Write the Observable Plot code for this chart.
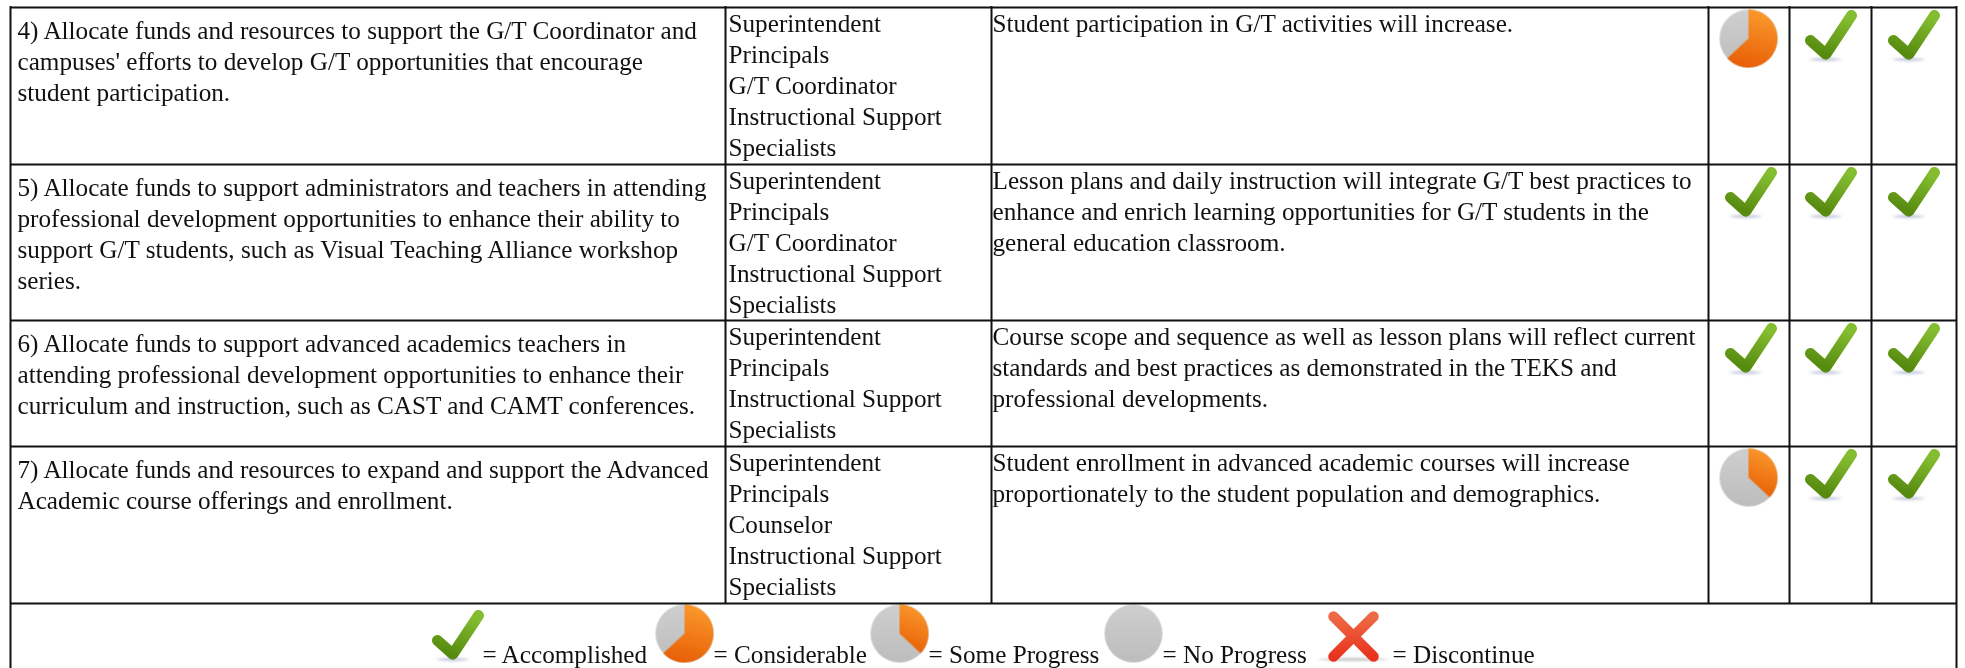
<!DOCTYPE html>
<html><head><meta charset="utf-8">
<script src="https://cdn.jsdelivr.net/npm/d3@7"></script>
<script src="https://cdn.jsdelivr.net/npm/@observablehq/plot@0.6"></script>
<style>html,body{margin:0;padding:0;background:#fff}svg{display:block}</style>
</head><body><div id="chart"></div>
<script>
// ---- table content ----
const rowIds = ["4", "5", "6", "7"];
const strategies = [
  "4) Allocate funds and resources to support the G/T Coordinator and\ncampuses' efforts to develop G/T opportunities that encourage\nstudent participation.",
  "5) Allocate funds to support administrators and teachers in attending\nprofessional development opportunities to enhance their ability to\nsupport G/T students, such as Visual Teaching Alliance workshop\nseries.",
  "6) Allocate funds to support advanced academics teachers in\nattending professional development opportunities to enhance their\ncurriculum and instruction, such as CAST and CAMT conferences.",
  "7) Allocate funds and resources to expand and support the Advanced\nAcademic course offerings and enrollment."
];
const responsible = [
  "Superintendent\nPrincipals\nG/T Coordinator\nInstructional Support\nSpecialists",
  "Superintendent\nPrincipals\nG/T Coordinator\nInstructional Support\nSpecialists",
  "Superintendent\nPrincipals\nInstructional Support\nSpecialists",
  "Superintendent\nPrincipals\nCounselor\nInstructional Support\nSpecialists"
];
const outcomes = [
  "Student participation in G/T activities will increase.",
  "Lesson plans and daily instruction will integrate G/T best practices to\nenhance and enrich learning opportunities for G/T students in the\ngeneral education classroom.",
  "Course scope and sequence as well as lesson plans will reflect current\nstandards and best practices as demonstrated in the TEKS and\nprofessional developments.",
  "Student enrollment in advanced academic courses will increase\nproportionately to the student population and demographics."
];
// status per review column, by row: 1 = accomplished, other = share of pie complete
const review1 = [0.63, 1, 1, 0.37];
const review2 = [1, 1, 1, 1];
const review3 = [1, 1, 1, 1];
const legendLabels = ["= Accomplished", "= Considerable", "= Some Progress", "= No Progress", "= Discontinue"];
const legendStatus = [1, 0.63, 0.37, 0, -1];

// ---- layout (table units = page pixels) ----
const W = 1965, H = 668;
const colEdges = [10, 725, 991, 1708, 1789, 1871, 1956];
const rowEdges = [7, 164, 320, 446, 603];
const serif = "'Liberation Serif','Times New Roman',serif";
const FS = 25.2, LH = 31;
const checkCentre = [42, 41, 42];
const legendIconX = [457, 684, 899, 1133, 1353];
const legendLabelX = [482, 713, 928, 1162, 1392];
const legendBase = 662;

// ---- icon symbols (drawn by Plot.dot; Plot passes size = pi r^2) ----
const unit = s => Math.sqrt(s / Math.PI);
const checkSym = {draw(c, s){ const k = unit(s)/30;
  c.moveTo(-20*k, 4*k); c.lineTo(-4.7*k, 17.7*k); c.lineTo(21*k, -21*k); }};
const crossSym = {draw(c, s){ const k = unit(s)/30;
  c.moveTo(-20*k,-20*k); c.lineTo(20*k,20*k); c.moveTo(20*k,-20*k); c.lineTo(-20*k,20*k); }};
const shadowSym = {draw(c, s){ const r = unit(s);
  c.moveTo(-r,0); c.bezierCurveTo(-r*0.4,-2.2,r*0.4,-2.2,r,0);
  c.bezierCurveTo(r*0.4,2.2,-r*0.4,2.2,-r,0); c.closePath(); }};
const wedge = f => ({draw(c, s){ const r = unit(s);
  const a0 = -Math.PI/2, a1 = a0 + f*2*Math.PI;
  c.moveTo(0,0); c.lineTo(0,-r); c.arc(0,0,r,a0,a1); c.closePath(); }});
const disc = {draw(c, s){ const r = unit(s); c.moveTo(r,0); c.arc(0,0,r,0,2*Math.PI); c.closePath(); }};

function defs(){
  const d = document.createElementNS("http://www.w3.org/2000/svg", "defs");
  d.innerHTML = `
  <linearGradient id="gCheck" x1="0.75" y1="0" x2="0.4" y2="1"><stop offset="0" stop-color="#84bd30"/><stop offset="1" stop-color="#578b10"/></linearGradient>
  <linearGradient id="gOrange" x1="0.6" y1="0" x2="0.4" y2="1"><stop offset="0" stop-color="#fb9a2e"/><stop offset="1" stop-color="#e85f05"/></linearGradient>
  <linearGradient id="gGray" x1="0" y1="0" x2="0" y2="1"><stop offset="0" stop-color="#cfcfcf"/><stop offset="1" stop-color="#bdbdbd"/></linearGradient>
  <linearGradient id="gCross" x1="0" y1="0" x2="0" y2="1"><stop offset="0" stop-color="#ee6a45"/><stop offset="1" stop-color="#e8331e"/></linearGradient>
  <filter id="soft" x="-20%" y="-20%" width="140%" height="140%"><feGaussianBlur stdDeviation="0.7"/></filter>
  <filter id="softer" x="-20%" y="-200%" width="140%" height="500%"><feGaussianBlur stdDeviation="1"/></filter>`;
  return d;
}
const withFilter = id => (i, s, v, d, c, next) => { const g = next(i, s, v, d, c); g.setAttribute("filter", `url(#${id})`); return g; };

// ---- tidy tables ----
const rowCells = rowIds.map((id, i) => ({
  id, top: rowEdges[i], strategy: strategies[i], responsible: responsible[i], outcome: outcomes[i]
}));
const statusCells = [review1, review2, review3].flatMap((col, j) =>
  col.map((v, i) => ({status: v, col: j, row: i})));
const legend = legendLabels.map((label, i) => ({label, status: legendStatus[i], ix: legendIconX[i], lx: legendLabelX[i]}));

const checkDots = statusCells.filter(d => d.status === 1)
  .map(d => ({x: colEdges[d.col + 3] + checkCentre[d.col], y: rowEdges[d.row] + 29}))
  .concat(legend.filter(d => d.status === 1).map(d => ({x: d.ix, y: 636})));
const pieDots = statusCells.filter(d => d.status < 1)
  .map(d => ({x: colEdges[d.col + 3] + 40, y: rowEdges[d.row] + 31, f: d.status}))
  .concat(legend.filter(d => d.status >= 0 && d.status < 1).map(d => ({x: d.ix, y: 633, f: d.status})));
const crossDots = legend.filter(d => d.status === -1).map(d => ({x: d.ix, y: 636}));

const vRules = colEdges.map((x, i) => ({x, y1: rowEdges[0] - 1, y2: (i === 0 || i === colEdges.length - 1) ? H : rowEdges[4]}));
const textCommon = {fontFamily: serif, fontSize: FS, textAnchor: "start", lineAnchor: "top", lineHeight: LH / FS, fill: "#111"};

const plot = Plot.plot({
  width: W, height: H, margin: 0,
  x: {domain: [0, W], range: [0, W], axis: null},
  y: {domain: [0, H], range: [0, H], axis: null},
  marks: [
    defs,
    // pies
    Plot.dot(pieDots, {x: "x", y: "y", r: 29, symbol: () => disc, fill: "url(#gGray)", render: withFilter("soft")}),
    Plot.dot(pieDots.filter(d => d.f > 0), {x: "x", y: "y", r: 29, symbol: d => wedge(d.f), fill: "url(#gOrange)", render: withFilter("soft")}),
    // check marks
    Plot.dot(checkDots, {x: d => d.x - 5, y: d => d.y + 23, r: 17, symbol: () => shadowSym, fill: "#c7c9de", render: withFilter("softer")}),
    Plot.dot(checkDots, {x: "x", y: "y", r: 30, symbol: () => checkSym, fill: "none", stroke: "url(#gCheck)", strokeWidth: 11, strokeLinecap: "round", strokeLinejoin: "round"}),
    // cross
    Plot.dot(crossDots, {x: "x", y: d => d.y + 23, r: 37, symbol: () => shadowSym, fill: "#cccccc", render: withFilter("softer")}),
    Plot.dot(crossDots, {x: "x", y: "y", r: 30, symbol: () => crossSym, fill: "none", stroke: "url(#gCross)", strokeWidth: 10.5, strokeLinecap: "round"}),
    // grid
    Plot.ruleY(rowEdges, {x1: colEdges[0], x2: colEdges[6], y: d => d, stroke: "#111", strokeWidth: 2}),
    Plot.ruleX(vRules, {x: "x", y1: "y1", y2: "y2", stroke: "#111", strokeWidth: 2}),
    // text
    Plot.text(rowCells, {x: colEdges[0] + 7, y: d => d.top + 9, text: "strategy", ...textCommon}),
    Plot.text(rowCells, {x: colEdges[1] + 3, y: d => d.top + 2, text: "responsible", ...textCommon}),
    Plot.text(rowCells, {x: colEdges[2] + 1, y: d => d.top + 2, text: "outcome", ...textCommon}),
    Plot.text(legend, {x: "lx", y: legendBase, text: "label", fontFamily: serif, fontSize: FS, textAnchor: "start", lineAnchor: "bottom", fill: "#111"})
  ]
});
document.getElementById("chart").append(plot);
</script></body></html>
